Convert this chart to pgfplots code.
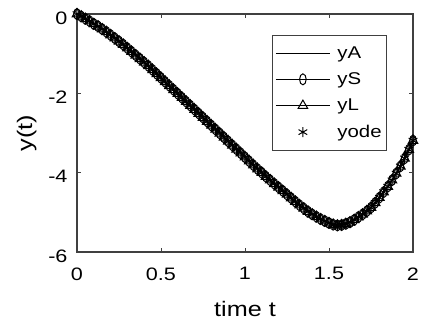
\documentclass[border=0pt]{standalone}
\usepackage{pgfplots}
\pgfplotsset{compat=1.18}
\usepackage{pgfplotstable}
\usepackage{fontspec}
\setmainfont{Liberation Sans}[FakeStretch=1.2]

% t, y(t) (yA, yS, yL and yode coincide on the picture)
\pgfplotstableread{
t y
0.000 0.00
0.025 -0.06
0.050 -0.12
0.075 -0.18
0.100 -0.25
0.125 -0.31
0.150 -0.38
0.175 -0.45
0.200 -0.53
0.225 -0.61
0.250 -0.69
0.275 -0.77
0.300 -0.86
0.325 -0.95
0.350 -1.04
0.375 -1.13
0.400 -1.22
0.425 -1.31
0.450 -1.41
0.475 -1.51
0.500 -1.61
0.525 -1.71
0.550 -1.81
0.575 -1.91
0.600 -2.01
0.625 -2.11
0.650 -2.21
0.675 -2.31
0.700 -2.41
0.725 -2.51
0.750 -2.61
0.775 -2.71
0.800 -2.81
0.825 -2.91
0.850 -3.01
0.875 -3.11
0.900 -3.21
0.925 -3.31
0.950 -3.41
0.975 -3.51
1.000 -3.61
1.025 -3.71
1.050 -3.81
1.075 -3.91
1.100 -4.00
1.125 -4.10
1.150 -4.19
1.175 -4.28
1.200 -4.37
1.225 -4.46
1.250 -4.55
1.275 -4.64
1.300 -4.73
1.325 -4.82
1.350 -4.90
1.375 -4.98
1.400 -5.05
1.425 -5.11
1.450 -5.17
1.475 -5.22
1.500 -5.27
1.525 -5.31
1.550 -5.33
1.575 -5.32
1.600 -5.29
1.625 -5.25
1.650 -5.19
1.675 -5.12
1.700 -5.05
1.725 -4.97
1.750 -4.88
1.775 -4.76
1.800 -4.63
1.825 -4.49
1.850 -4.35
1.875 -4.19
1.900 -4.02
1.925 -3.84
1.950 -3.64
1.975 -3.42
2.000 -3.19
}\datatable

\begin{document}
\begin{tikzpicture}
\useasboundingbox (-77pt,-70pt) rectangle (346pt,252pt);
\begin{axis}[
  scale only axis,
  width=336pt, height=238pt,
  xmin=0, xmax=2, ymin=-6, ymax=0,
  xtick={0,0.5,1,1.5,2},
  ytick={-6,-4,-2,0},
  xticklabels={0,0.5,1,1.5,2},
  yticklabels={-6,-4,-2,0},
  tick align=inside,
  major tick length=4pt,
  axis line style={black!75, line width=1.1pt},
  every tick/.style={black!75, line width=0.8pt},
  clip=false,
  /pgf/number format/assume math mode=true,
  ticklabel style={font=\fontsize{18}{18}\selectfont},
  xticklabel style={yshift=-12pt},
  yticklabel style={xshift=-6pt, yshift=-4pt},
  xlabel={time t},
  ylabel={y(t)},
  label style={font=\fontsize{21}{21}\selectfont},
  x label style={at={(axis description cs:0.5,0)}, anchor=center, yshift=-57pt},
  y label style={at={(axis description cs:-0.150,0.5)}, anchor=center},
  legend style={at={(axis description cs:0.923,0.912)}, anchor=north east,
    draw=black!75, line width=1pt, font=\fontsize{17}{17}\selectfont,
    row sep=9pt, column sep=5pt, inner xsep=3pt, inner ysep=9pt},
  legend cell align=left,
  legend image code/.code={\draw[mark repeat=2,mark phase=2,#1] plot coordinates {(0pt,0pt) (27pt,0pt) (54pt,0pt)};},
]
\addplot[black, line width=1pt, no markers] table[x=t, y=y] {\datatable};
\addlegendentry{yA}
\addplot[black, line width=1pt, mark=o, mark size=5.5pt, mark options={xscale=0.6, solid}] table[x=t, y=y] {\datatable};
\addlegendentry{yS}
\addplot[black, line width=1pt, mark=triangle, mark size=5.5pt, mark options={solid}] table[x=t, y=y] {\datatable};
\addlegendentry{yL}
\addplot[black, line width=1pt, only marks, mark=asterisk, mark size=5pt] table[x=t, y=y] {\datatable};
\addlegendentry{yode}
\end{axis}
\end{tikzpicture}
\end{document}
